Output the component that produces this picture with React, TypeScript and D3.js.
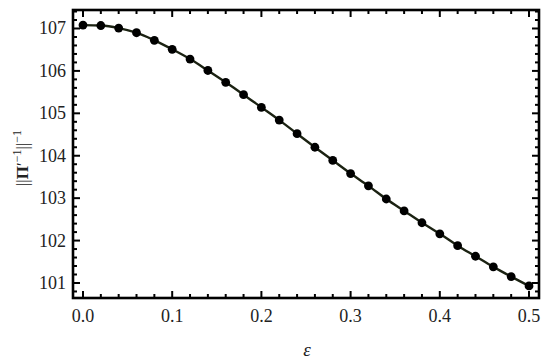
import { useRef, useEffect } from 'react';
import * as d3 from 'd3';

const EPS = [0, 0.02, 0.04, 0.06, 0.08, 0.1, 0.12, 0.14, 0.16, 0.18, 0.2, 0.22, 0.24,
  0.26, 0.28, 0.3, 0.32, 0.34, 0.36, 0.38, 0.4, 0.42, 0.44, 0.46, 0.48, 0.5];
const NORM = [107.08, 107.07, 107.01, 106.9, 106.72, 106.51, 106.28, 106.01, 105.73, 105.44,
  105.14, 104.84, 104.52, 104.2, 103.89, 103.58, 103.29, 102.98, 102.7, 102.42,
  102.16, 101.88, 101.63, 101.38, 101.15, 100.93];
const X_TICKS = [0, 0.1, 0.2, 0.3, 0.4, 0.5];
const Y_TICKS = [101, 102, 103, 104, 105, 106, 107];

const W = 550;
const H = 361;
const FONT = "'Times New Roman', 'Liberation Serif', Tinos, Times, serif";

export default function App() {
  const ref = useRef<SVGSVGElement>(null);

  useEffect(() => {
    const svg = d3.select(ref.current);
    svg.selectAll('*').remove();
    const m = { left: 73, right: 539, top: 10, bottom: 298 };

    const x = d3.scaleLinear().domain([-0.0112, 0.5112]).range([m.left, m.right]);
    const y = d3.scaleLinear().domain([100.646, 107.436]).range([m.bottom, m.top]);
    const data = EPS.map((e, i) => ({ e, v: NORM[i] }));

    // minor / major ticks on all four sides, pointing inward
    const xMinor = d3.range(0, 0.5001, 0.02).filter(v => !X_TICKS.some(t => Math.abs(t - v) < 1e-6));
    const yMinor = d3.range(100.8, 107.41, 0.2).filter(v => !Y_TICKS.some(t => Math.abs(t - v) < 1e-6));
    const tk = svg.append('g').attr('stroke', '#000').attr('stroke-width', 2);
    const tickSets: [number[], number][] = [[X_TICKS, 7], [xMinor, 4]];
    tickSets.forEach(([vals, len]) => {
      vals.forEach(v => {
        tk.append('line').attr('x1', x(v)).attr('x2', x(v)).attr('y1', m.bottom).attr('y2', m.bottom - len);
        tk.append('line').attr('x1', x(v)).attr('x2', x(v)).attr('y1', m.top).attr('y2', m.top + len);
      });
    });
    const ySets: [number[], number][] = [[Y_TICKS, 7], [yMinor, 4]];
    ySets.forEach(([vals, len]) => {
      vals.forEach(v => {
        tk.append('line').attr('y1', y(v)).attr('y2', y(v)).attr('x1', m.left).attr('x2', m.left + len);
        tk.append('line').attr('y1', y(v)).attr('y2', y(v)).attr('x1', m.right).attr('x2', m.right - len);
      });
    });

    // curve + dots
    const line = d3.line<{ e: number; v: number }>().x(d => x(d.e)).y(d => y(d.v)).curve(d3.curveMonotoneX);
    svg.append('path').datum(data).attr('fill', 'none')
      .attr('stroke', '#1b2212').attr('stroke-width', 2.4).attr('d', line);
    svg.selectAll('circle.pt').data(data).enter().append('circle')
      .attr('class', 'pt').attr('cx', d => x(d.e)).attr('cy', d => y(d.v))
      .attr('r', 4.4).attr('fill', '#000');

    // frame
    svg.append('rect').attr('x', m.left).attr('y', m.top)
      .attr('width', m.right - m.left).attr('height', m.bottom - m.top)
      .attr('fill', 'none').attr('stroke', '#000').attr('stroke-width', 2.6);

    // tick labels
    svg.append('g').selectAll('text').data(X_TICKS).enter().append('text')
      .attr('x', d => x(d)).attr('y', 322).attr('text-anchor', 'middle')
      .style('font-family', FONT).style('font-size', '18px').attr('fill', '#222')
      .text(d => d3.format('.1f')(d));
    svg.append('g').selectAll('text').data(Y_TICKS).enter().append('text')
      .attr('x', 66).attr('y', d => y(d) + 6).attr('text-anchor', 'end')
      .style('font-family', FONT).style('font-size', '18px').attr('fill', '#222')
      .text(d => d);

    // axis titles
    svg.append('text').attr('x', (m.left + m.right) / 2 + 1).attr('y', 356)
      .attr('text-anchor', 'middle').style('font-family', FONT).style('font-size', '19px')
      .style('font-style', 'italic').attr('fill', '#222').text('ε');

    const yl = svg.append('text').attr('transform', 'translate(28,158) rotate(-90)')
      .attr('text-anchor', 'middle').style('font-family', FONT).style('font-size', '17px').attr('fill', '#222');
    yl.append('tspan').text('||');
    yl.append('tspan').style('font-weight', 'bold').text('Π');
    yl.append('tspan').text('′');
    yl.append('tspan').attr('dy', -7).style('font-size', '12px').text('−1');
    yl.append('tspan').attr('dy', 7).text('||');
    yl.append('tspan').attr('dy', -7).style('font-size', '12px').text('−1');
  }, []);

  return (
    <svg ref={ref} width={W} height={H}
      style={{ position: 'absolute', left: 0, top: 0, background: '#fff' }} />
  );
}
